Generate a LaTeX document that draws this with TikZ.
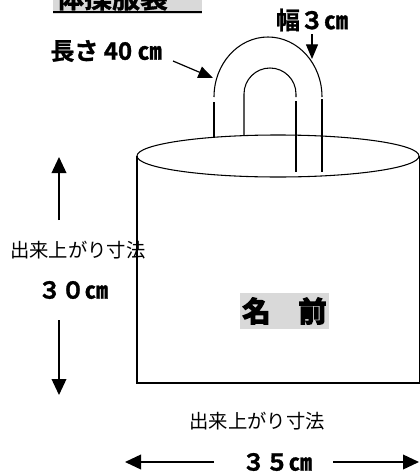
\documentclass[tikz,border=0pt]{standalone}
\usepackage{fontspec}
\setmainfont{Noto Sans CJK JP}[BoldFont={Noto Sans CJK JP Bold}]
\newfontfamily\heavyfont{Noto Sans CJK JP Bold}[FakeBold=5]
\newfontfamily\semiheavy{Noto Sans CJK JP Bold}[FakeBold=1.2]
\usetikzlibrary{arrows.meta}
\tikzset{
  bagline/.style={line width=0.8pt, black},
  dimarrow/.style={line width=1.2pt, -{Triangle[length=12pt,width=11pt]}},
  ptrarrow/.style={line width=0.9pt, -{Triangle[length=11pt,width=9pt]}},
  boldlabel/.style={font=\semiheavy\fontsize{17.5pt}{19pt}\selectfont, inner sep=0pt},
  plainlabel/.style={font=\fontsize{14.5pt}{16pt}\selectfont, inner sep=0pt},
}
\begin{document}
\begin{tikzpicture}[x=0.75pt,y=-0.75pt]
\useasboundingbox (0,0) rectangle (419,475);
% title (cut at top)
\fill[gray!30] (53,-30) rectangle (202,14);
\draw[line width=1.5pt] (53,11.5) -- (202,11.5);
\node[anchor=base, inner sep=0pt, font=\semiheavy\fontsize{21pt}{24pt}\selectfont] (title) at (112,8) {体操服袋};
% labels
\node[boldlabel, font=\semiheavy\fontsize{18pt}{20pt}\selectfont] (len) at (106,51) {長さ 40 ㎝};
\node[boldlabel, font=\semiheavy\fontsize{18pt}{20pt}\selectfont] (wid) at (312,20) {幅３㎝};
\node[plainlabel] (hdim) at (78,250) {出来上がり寸法};
\node[boldlabel] (hval) at (73,290) {３０㎝};
\node[plainlabel] (wdim) at (257,421) {出来上がり寸法};
\node[boldlabel] (wval) at (277,462) {３５㎝};
% bag body
\draw[bagline] (137,156) -- (137,383) -- (420,383) -- (420,156);
\draw[bagline] (278,156) ellipse [x radius=105.75pt, y radius=15.75pt];
% handle: back strap
\draw[bagline] (214,137.3) -- (214,102);
\draw[bagline] (214,97) arc[start angle=180, end angle=0, x radius=40.5pt, y radius=45pt];
\draw[bagline] (244,135.6) -- (244,94) arc[start angle=180, end angle=0, x radius=19.5pt, y radius=19.5pt] -- (296,97);
% handle: front strap
\draw[bagline] (296,101) -- (296,172);
\draw[bagline] (322,99) -- (322,172);
% name box
\node[fill=gray!30, minimum width=66.75pt, minimum height=27pt, inner sep=0pt,
      font=\heavyfont\fontsize{21pt}{24pt}\selectfont] (name) at (284.5,311) {名　前};
% pointer arrows
\coordinate (lenA) at (173,61);
\coordinate (lenB) at (213,78);
\draw[ptrarrow] (lenA) -- (lenB);
\coordinate (widA) at (312,34);
\coordinate (widB) at (312,59);
\draw[ptrarrow] (widA) -- (widB);
% dimension arrows
\coordinate (upA) at (59,220);
\coordinate (upB) at (59,157);
\coordinate (dnA) at (59,320);
\coordinate (dnB) at (59,395);
\draw[dimarrow] (upA) -- (upB);
\draw[dimarrow] (dnA) -- (dnB);
\coordinate (ltA) at (214,462);
\coordinate (ltB) at (125,462);
\coordinate (rtA) at (333,462);
\coordinate (rtB) at (419,462);
\draw[dimarrow] (ltA) -- (ltB);
\draw[dimarrow] (rtA) -- (rtB);
\end{tikzpicture}
\end{document}
